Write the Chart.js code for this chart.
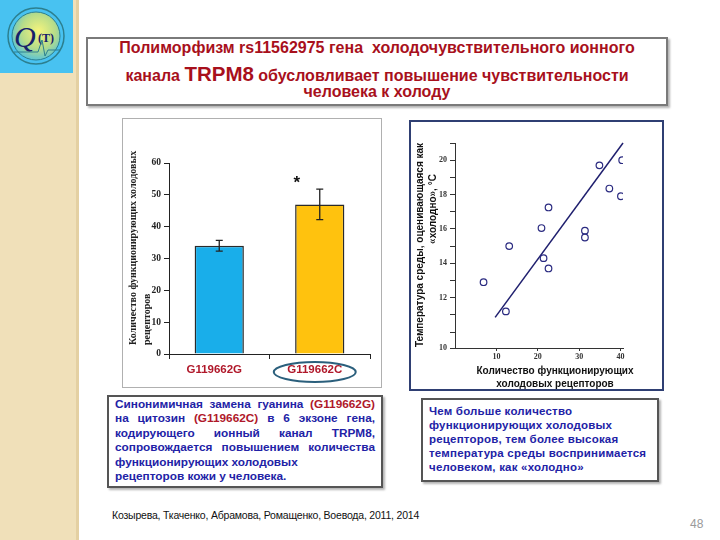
<!DOCTYPE html>
<html lang="ru">
<head>
<meta charset="UTF-8" />
<script src="https://cdn.jsdelivr.net/npm/chart.js"></script>
<style>
  body { margin: 0; width: 720px; height: 540px; position: relative; background: #fff; overflow: hidden;
         font-family: "Liberation Sans", Arial, sans-serif; }
  .abs { position: absolute; }
  #strip { left: 0; top: 0; width: 76px; height: 540px; background: #f0e0b9; border-right: 3px solid #e4d0a2; }
  #logo { left: 0; top: 0; width: 73px; height: 73px; background: #48c2f1; }
  #title { left: 86px; top: 37px; width: 578px; height: 65px; border: 2px solid #7a7a7a;
           box-shadow: 2px 2px 2px #b5b5b5; color: #a8101c; font-weight: bold; font-size: 16px; text-align: center; }
  #title div { line-height: 18px; height: 18px; }
  #title .big { font-size: 20.5px; line-height: 18px; }
  #barFrame { left: 122px; top: 118px; width: 258px; height: 268px; border: 1px solid #b0b0b0; }
  #scatterFrame { left: 409px; top: 120px; width: 251px; height: 267px; border: 2px solid #2f3f73; }
  .note { border: 2px solid #555; box-shadow: 2px 2px 2px #b5b5b5; color: #2222a6; font-weight: bold;
          line-height: 14.4px; box-sizing: border-box; }
  .note .j { text-align: justify; text-align-last: justify; }
  .red { color: #b0182a; }
  #note1 { left: 107px; top: 395px; width: 276px; height: 93px; padding: 0 6px; font-size: 11.8px; }
  #note2 { left: 421px; top: 398px; width: 238px; height: 84px; padding: 4px 6px 0 6px; font-size: 11.5px;
           line-height: 14px; letter-spacing: 0.2px; }
  #cite { left: 112px; top: 509px; font-size: 10.5px; color: #111; letter-spacing: -0.2px; }
  #page { left: 690px; top: 517px; font-size: 12px; color: #9a9a9a; }
</style>
</head>
<body>
<div id="strip" class="abs"></div>
<div id="logo" class="abs">
  <svg width="73" height="73">
    <defs>
      <radialGradient id="g" cx="0.55" cy="0.4" r="0.6">
        <stop offset="0" stop-color="#f6f47c" />
        <stop offset="0.6" stop-color="#b5dc8a" />
        <stop offset="1" stop-color="#5fc4d2" />
      </radialGradient>
    </defs>
    <circle cx="36" cy="36" r="28" fill="none" stroke="#2c7f8f" stroke-width="1.5" />
    <circle cx="36" cy="36" r="24" fill="url(#g)" stroke="#2c7f8f" stroke-width="1" />
    <path d="M14 52 L38 52 L42 40 L45 56 L48 50 L60 50" fill="none" stroke="#2c7f8f" stroke-width="1" />
    <text x="14" y="47" font-family="Liberation Serif" font-size="30" font-style="italic" fill="#17206a">Q</text>
    <text x="38" y="42" font-family="Liberation Serif" font-size="12" font-weight="bold" fill="#17206a">(T)</text>
  </svg>
</div>

<div id="title" class="abs">
  <div style="margin-top:0">Полиморфизм rs11562975 гена&nbsp; холодочувствительного ионного</div>
  <div style="margin-top:8px">канала <span class="big">TRPM8</span> обусловливает повышение чувствительности</div>
  <div>человека к холоду</div>
</div>

<div id="barFrame" class="abs"></div>
<canvas id="barChart" class="abs" width="260" height="270" style="left:122px;top:118px"></canvas>

<div id="scatterFrame" class="abs"></div>
<canvas id="scatterChart" class="abs" width="251" height="267" style="left:411px;top:122px"></canvas>

<div id="note1" class="abs note">
  <div class="j">Синонимичная замена гуанина <span class="red">(G119662G)</span></div>
  <div class="j">на цитозин <span class="red">(G119662C)</span> в 6 экзоне гена,</div>
  <div class="j">кодирующего ионный канал TRPM8,</div>
  <div class="j">сопровождается повышением количества</div>
  <div>функционирующих холодовых</div>
  <div>рецепторов кожи у человека.</div>
</div>

<div id="note2" class="abs note">
  <div>Чем больше количество</div>
  <div>функционирующих холодовых</div>
  <div>рецепторов, тем более высокая</div>
  <div>температура среды воспринимается</div>
  <div>человеком, как «холодно»</div>
</div>

<div id="cite" class="abs">Козырева, Ткаченко, Абрамова, Ромащенко, Воевода, 2011, 2014</div>
<div id="page" class="abs">48</div>

<script>
  const SANS = "'Liberation Sans', Arial, sans-serif";
  const SERIF = "'Liberation Serif', 'Times New Roman', serif";

  // bar chart data
  const genotypes = ["G119662G", "G119662C"];
  const receptorMeans = [34, 47];
  const receptorErrors = [1.7, 4.8];
  const barColors = ["#19aeea", "#ffc20e"];
  const starValue = 55;

  // scatter data
  const receptorCounts = [6.9, 12.3, 13.1, 20.9, 21.4, 22.6, 22.6, 31.4, 31.4, 34.9, 37.3, 40.4, 40.1];
  const coldTemps = [12.9, 11.2, 15.0, 16.05, 14.3, 17.25, 13.7, 15.9, 15.5, 19.7, 18.35, 20.0, 17.9];
  const fitX = [9.7, 40.6];
  const fitY = [10.85, 21.0];
  const countTicks = [10, 20, 30, 40];
  const tempMin = 9.07;
  const tempMax = 21;
  const tempTicks = [tempMin, 10, 11, 12, 13, 14, 15, 16, 17, 18, 19, 20, 21];

  // rotated / plain axis titles drawn on the canvas
  const axisTitles = {
    id: "axisTitles",
    afterDraw(chart, args, opts) {
      const ctx = chart.ctx;
      ctx.save();
      ctx.fillStyle = opts.color || "#111";
      opts.lines.forEach((l) => {
        ctx.save();
        ctx.font = l.font;
        ctx.translate(l.x, l.y);
        if (l.rotate) ctx.rotate(-Math.PI / 2);
        ctx.textAlign = l.align || "center";
        ctx.textBaseline = "middle";
        ctx.fillText(l.text, 0, 0);
        ctx.restore();
      });
      ctx.restore();
    },
  };

  const errorBars = {
    id: "errorBars",
    afterDatasetsDraw(chart) {
      const { ctx, scales: { x, y } } = chart;
      const meta = chart.getDatasetMeta(0);
      ctx.save();
      ctx.strokeStyle = "#222";
      ctx.lineWidth = 1.3;
      meta.data.forEach((bar, i) => {
        const hi = y.getPixelForValue(receptorMeans[i] + receptorErrors[i]);
        const lo = y.getPixelForValue(receptorMeans[i] - receptorErrors[i]);
        ctx.beginPath();
        ctx.moveTo(bar.x, hi); ctx.lineTo(bar.x, lo);
        ctx.moveTo(bar.x - 3.5, hi); ctx.lineTo(bar.x + 3.5, hi);
        ctx.moveTo(bar.x - 3.5, lo); ctx.lineTo(bar.x + 3.5, lo);
        ctx.stroke();
      });
      // significance star above the second bar
      const b = meta.data[1];
      ctx.fillStyle = "#111";
      ctx.font = "bold 17px " + SANS;
      ctx.textAlign = "center";
      ctx.textBaseline = "middle";
      ctx.fillText("*", b.x - 23, y.getPixelForValue(starValue) + 4);
      // ellipse round the second genotype label
      const cx = x.getPixelForValue(1) - 5;
      const cy = chart.chartArea.bottom + 18;
      ctx.strokeStyle = "#2b5f7c";
      ctx.lineWidth = 2;
      ctx.beginPath();
      ctx.ellipse(cx, cy, 41, 10, 0, 0, Math.PI * 2);
      ctx.stroke();
      ctx.restore();
    },
  };

  new Chart(document.getElementById("barChart"), {
    type: "bar",
    data: {
      labels: genotypes,
      datasets: [{
        data: receptorMeans,
        backgroundColor: barColors,
        borderColor: "#2a2a2a",
        borderWidth: 1.5,
        barPercentage: 0.49,
        categoryPercentage: 1,
      }],
    },
    options: {
      responsive: false,
      animation: false,
      layout: { padding: { top: 45, right: 12, left: 0, bottom: 0 } },
      plugins: {
        legend: { display: false },
        tooltip: { enabled: false },
        axisTitles: {
          color: "#222",
          lines: [
            { text: "Количество функционирующих холодовых", x: 11, y: 227, rotate: true, align: "left", font: "bold 10px " + SERIF },
            { text: "рецепторов", x: 25, y: 227, rotate: true, align: "left", font: "bold 10px " + SERIF },
          ],
        },
      },
      scales: {
        x: {
          offset: true,
          grid: { offset: true, drawOnChartArea: false, tickLength: 5, color: "#222" },
          border: { color: "#222" },
          ticks: { color: "#b0182a", font: { family: SANS, weight: "bold", size: 11.5 }, padding: 4, labelOffset: -5 },
          afterFit: (s) => { s.height = 34; },
        },
        y: {
          min: 0,
          max: 60,
          ticks: { stepSize: 10, color: "#222", font: { family: SERIF, weight: "bold", size: 9.5 }, padding: 3 },
          grid: { drawOnChartArea: false, tickLength: 5, color: "#222" },
          border: { color: "#222" },
          afterFit: (s) => { s.width = 47; },
        },
      },
    },
    plugins: [errorBars, axisTitles],
  });

  new Chart(document.getElementById("scatterChart"), {
    type: "scatter",
    data: {
      datasets: [
        {
          data: receptorCounts.map((c, i) => ({ x: c, y: coldTemps[i] })),
          pointRadius: 3.3,
          pointBorderWidth: 1.2,
          borderColor: "#2a2a80",
          backgroundColor: "rgba(255,255,255,0)",
        },
        {
          type: "line",
          data: fitX.map((v, i) => ({ x: v, y: fitY[i] })),
          borderColor: "#1f1f6e",
          borderWidth: 1.5,
          pointRadius: 0,
          clip: false,
        },
      ],
    },
    options: {
      responsive: false,
      animation: false,
      layout: { padding: { top: 21, right: 39, left: 0, bottom: 0 } },
      plugins: {
        legend: { display: false },
        tooltip: { enabled: false },
        axisTitles: {
          color: "#111",
          lines: [
            { text: "Температура среды, оценивающаяся как", x: 9, y: 123, rotate: true, font: "bold 10px " + SANS },
            { text: "«холодно», °C", x: 22, y: 87, rotate: true, font: "bold 10px " + SANS },
            { text: "Количество функционирующих", x: 144, y: 249, font: "bold 10px " + SANS },
            { text: "холодовых рецепторов", x: 144, y: 262, font: "bold 10px " + SANS },
          ],
        },
      },
      scales: {
        x: {
          min: 0,
          max: 40.6,
          afterBuildTicks: (s) => { s.ticks = countTicks.map((v) => ({ value: v })); },
          ticks: { color: "#333", font: { family: SERIF, weight: "bold", size: 8 }, padding: 1 },
          grid: { drawOnChartArea: false, tickLength: 3, color: "#333" },
          border: { color: "#333" },
          afterFit: (s) => { s.height = 41; },
        },
        y: {
          min: tempMin,
          max: tempMax,
          afterBuildTicks: (s) => { s.ticks = tempTicks.map((v) => ({ value: v })); },
          ticks: {
            color: "#333",
            font: { family: SERIF, weight: "bold", size: 8 },
            padding: 3,
            callback: (v) => (v === tempMin ? "10" : v >= 12 && v % 2 === 0 ? String(v) : ""),
          },
          grid: { drawOnChartArea: false, tickLength: 5, color: "#333" },
          border: { color: "#333" },
          afterFit: (s) => { s.width = 44; },
        },
      },
    },
    plugins: [axisTitles],
  });
</script>
</body>
</html>
